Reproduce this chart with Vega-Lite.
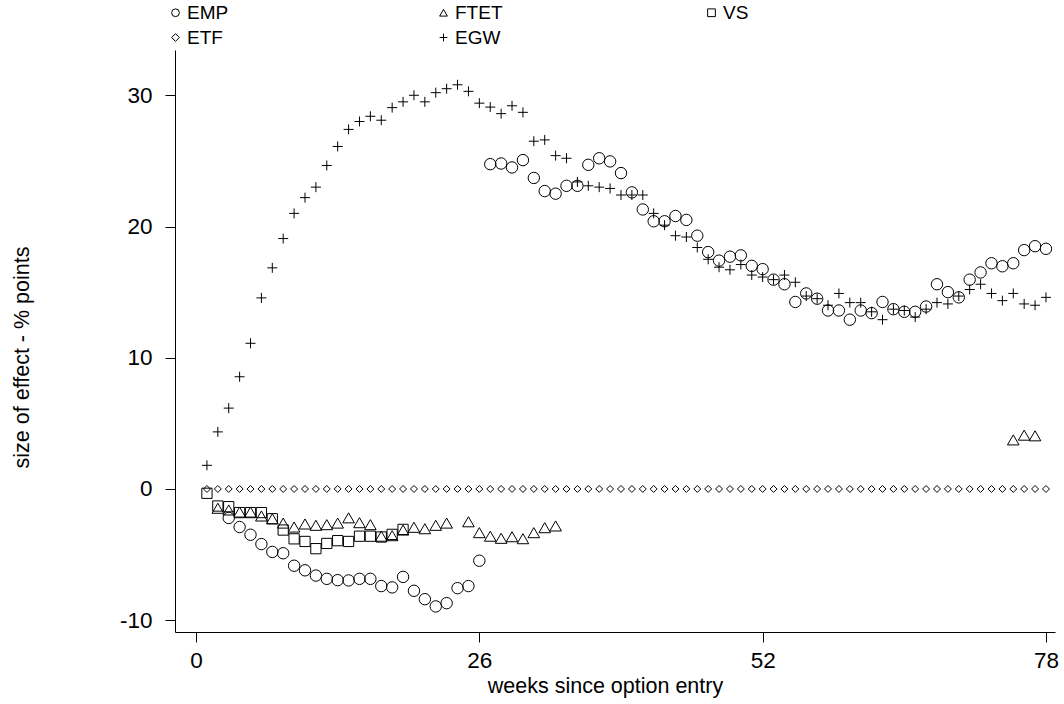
{
  "$schema": "https://vega.github.io/schema/vega-lite/v6.json",
  "autosize": "none",
  "width": 880,
  "height": 582,
  "padding": {"left": 175, "top": 50, "right": 9, "bottom": 72},
  "background": "white",
  "config": {
    "view": {"stroke": null},
    "font": "Liberation Sans",
    "axis": {"grid": false, "domainColor": "black", "tickColor": "black", "domainWidth": 1, "tickWidth": 1, "labelColor": "black", "titleColor": "black", "labelFont": "Liberation Sans", "titleFont": "Liberation Sans", "labelFontSize": 22.5, "titleFontSize": 21.5, "titleFontWeight": "normal", "tickSize": 10}
  },
  "data": {"values": [
    {"w":3,"s":"EMP","v":-2.21},{"w":4,"s":"EMP","v":-2.9},{"w":5,"s":"EMP","v":-3.49},{"w":6,"s":"EMP","v":-4.2},{"w":7,"s":"EMP","v":-4.8},{"w":8,"s":"EMP","v":-4.9},{"w":9,"s":"EMP","v":-5.85},{"w":10,"s":"EMP","v":-6.2},{"w":11,"s":"EMP","v":-6.6},{"w":12,"s":"EMP","v":-6.85},{"w":13,"s":"EMP","v":-6.95},{"w":14,"s":"EMP","v":-6.97},{"w":15,"s":"EMP","v":-6.85},{"w":16,"s":"EMP","v":-6.85},{"w":17,"s":"EMP","v":-7.4},{"w":18,"s":"EMP","v":-7.5},{"w":19,"s":"EMP","v":-6.7},{"w":20,"s":"EMP","v":-7.76},{"w":21,"s":"EMP","v":-8.4},{"w":22,"s":"EMP","v":-8.95},{"w":23,"s":"EMP","v":-8.7},{"w":24,"s":"EMP","v":-7.56},{"w":25,"s":"EMP","v":-7.4},{"w":26,"s":"EMP","v":-5.47},
    {"w":27,"s":"EMP","v":24.75},{"w":28,"s":"EMP","v":24.8},{"w":29,"s":"EMP","v":24.5},{"w":30,"s":"EMP","v":25.06},{"w":31,"s":"EMP","v":23.7},{"w":32,"s":"EMP","v":22.7},{"w":33,"s":"EMP","v":22.5},{"w":34,"s":"EMP","v":23.1},{"w":35,"s":"EMP","v":23.1},{"w":36,"s":"EMP","v":24.7},{"w":37,"s":"EMP","v":25.2},{"w":38,"s":"EMP","v":24.96},{"w":39,"s":"EMP","v":24.07},{"w":40,"s":"EMP","v":22.6},{"w":41,"s":"EMP","v":21.3},{"w":42,"s":"EMP","v":20.4},{"w":43,"s":"EMP","v":20.4},{"w":44,"s":"EMP","v":20.8},{"w":45,"s":"EMP","v":20.5},{"w":46,"s":"EMP","v":19.3},{"w":47,"s":"EMP","v":18.05},{"w":48,"s":"EMP","v":17.4},{"w":49,"s":"EMP","v":17.7},{"w":50,"s":"EMP","v":17.8},{"w":51,"s":"EMP","v":17.0},{"w":52,"s":"EMP","v":16.75},{"w":53,"s":"EMP","v":15.95},{"w":54,"s":"EMP","v":15.6},{"w":55,"s":"EMP","v":14.25},{"w":56,"s":"EMP","v":14.9},{"w":57,"s":"EMP","v":14.5},{"w":58,"s":"EMP","v":13.6},{"w":59,"s":"EMP","v":13.6},{"w":60,"s":"EMP","v":12.9},{"w":61,"s":"EMP","v":13.6},{"w":62,"s":"EMP","v":13.4},{"w":63,"s":"EMP","v":14.25},{"w":64,"s":"EMP","v":13.7},{"w":65,"s":"EMP","v":13.5},{"w":66,"s":"EMP","v":13.5},{"w":67,"s":"EMP","v":13.9},{"w":68,"s":"EMP","v":15.6},{"w":69,"s":"EMP","v":15.0},{"w":70,"s":"EMP","v":14.6},{"w":71,"s":"EMP","v":15.95},{"w":72,"s":"EMP","v":16.5},{"w":73,"s":"EMP","v":17.2},{"w":74,"s":"EMP","v":16.97},{"w":75,"s":"EMP","v":17.2},{"w":76,"s":"EMP","v":18.2},{"w":77,"s":"EMP","v":18.5},{"w":78,"s":"EMP","v":18.3},
    {"w":2,"s":"FTET","v":-1.47},{"w":3,"s":"FTET","v":-1.6},{"w":4,"s":"FTET","v":-1.76},{"w":5,"s":"FTET","v":-1.76},{"w":6,"s":"FTET","v":-2.06},{"w":7,"s":"FTET","v":-2.27},{"w":8,"s":"FTET","v":-2.6},{"w":9,"s":"FTET","v":-2.9},{"w":10,"s":"FTET","v":-2.67},{"w":11,"s":"FTET","v":-2.77},{"w":12,"s":"FTET","v":-2.72},{"w":13,"s":"FTET","v":-2.6},{"w":14,"s":"FTET","v":-2.2},{"w":15,"s":"FTET","v":-2.57},{"w":16,"s":"FTET","v":-2.72},{"w":17,"s":"FTET","v":-3.6},{"w":18,"s":"FTET","v":-3.56},{"w":19,"s":"FTET","v":-3.13},{"w":20,"s":"FTET","v":-2.92},{"w":21,"s":"FTET","v":-3.03},{"w":22,"s":"FTET","v":-2.77},{"w":23,"s":"FTET","v":-2.6},{"w":25,"s":"FTET","v":-2.5},{"w":26,"s":"FTET","v":-3.33},{"w":27,"s":"FTET","v":-3.6},{"w":28,"s":"FTET","v":-3.76},{"w":29,"s":"FTET","v":-3.64},{"w":30,"s":"FTET","v":-3.79},{"w":31,"s":"FTET","v":-3.33},{"w":32,"s":"FTET","v":-2.95},{"w":33,"s":"FTET","v":-2.82},{"w":75,"s":"FTET","v":3.74},{"w":76,"s":"FTET","v":4.1},{"w":77,"s":"FTET","v":4.05},
    {"w":1,"s":"VS","v":-0.33},{"w":2,"s":"VS","v":-1.3},{"w":3,"s":"VS","v":-1.35},{"w":4,"s":"VS","v":-1.8},{"w":5,"s":"VS","v":-1.8},{"w":6,"s":"VS","v":-1.8},{"w":7,"s":"VS","v":-2.27},{"w":8,"s":"VS","v":-3.13},{"w":9,"s":"VS","v":-3.8},{"w":10,"s":"VS","v":-4.0},{"w":11,"s":"VS","v":-4.55},{"w":12,"s":"VS","v":-4.15},{"w":13,"s":"VS","v":-3.94},{"w":14,"s":"VS","v":-4.0},{"w":15,"s":"VS","v":-3.6},{"w":16,"s":"VS","v":-3.6},{"w":17,"s":"VS","v":-3.66},{"w":18,"s":"VS","v":-3.46},{"w":19,"s":"VS","v":-3.08},
    {"w":1,"s":"ETF","v":0},{"w":2,"s":"ETF","v":0},{"w":3,"s":"ETF","v":0},{"w":4,"s":"ETF","v":0},{"w":5,"s":"ETF","v":0},{"w":6,"s":"ETF","v":0},{"w":7,"s":"ETF","v":0},{"w":8,"s":"ETF","v":0},{"w":9,"s":"ETF","v":0},{"w":10,"s":"ETF","v":0},{"w":11,"s":"ETF","v":0},{"w":12,"s":"ETF","v":0},{"w":13,"s":"ETF","v":0},{"w":14,"s":"ETF","v":0},{"w":15,"s":"ETF","v":0},{"w":16,"s":"ETF","v":0},{"w":17,"s":"ETF","v":0},{"w":18,"s":"ETF","v":0},{"w":19,"s":"ETF","v":0},{"w":20,"s":"ETF","v":0},{"w":21,"s":"ETF","v":0},{"w":22,"s":"ETF","v":0},{"w":23,"s":"ETF","v":0},{"w":24,"s":"ETF","v":0},{"w":25,"s":"ETF","v":0},{"w":26,"s":"ETF","v":0},{"w":27,"s":"ETF","v":0},{"w":28,"s":"ETF","v":0},{"w":29,"s":"ETF","v":0},{"w":30,"s":"ETF","v":0},{"w":31,"s":"ETF","v":0},{"w":32,"s":"ETF","v":0},{"w":33,"s":"ETF","v":0},{"w":34,"s":"ETF","v":0},{"w":35,"s":"ETF","v":0},{"w":36,"s":"ETF","v":0},{"w":37,"s":"ETF","v":0},{"w":38,"s":"ETF","v":0},{"w":39,"s":"ETF","v":0},{"w":40,"s":"ETF","v":0},{"w":41,"s":"ETF","v":0},{"w":42,"s":"ETF","v":0},{"w":43,"s":"ETF","v":0},{"w":44,"s":"ETF","v":0},{"w":45,"s":"ETF","v":0},{"w":46,"s":"ETF","v":0},{"w":47,"s":"ETF","v":0},{"w":48,"s":"ETF","v":0},{"w":49,"s":"ETF","v":0},{"w":50,"s":"ETF","v":0},{"w":51,"s":"ETF","v":0},{"w":52,"s":"ETF","v":0},{"w":53,"s":"ETF","v":0},{"w":54,"s":"ETF","v":0},{"w":55,"s":"ETF","v":0},{"w":56,"s":"ETF","v":0},{"w":57,"s":"ETF","v":0},{"w":58,"s":"ETF","v":0},{"w":59,"s":"ETF","v":0},{"w":60,"s":"ETF","v":0},{"w":61,"s":"ETF","v":0},{"w":62,"s":"ETF","v":0},{"w":63,"s":"ETF","v":0},{"w":64,"s":"ETF","v":0},{"w":65,"s":"ETF","v":0},{"w":66,"s":"ETF","v":0},{"w":67,"s":"ETF","v":0},{"w":68,"s":"ETF","v":0},{"w":69,"s":"ETF","v":0},{"w":70,"s":"ETF","v":0},{"w":71,"s":"ETF","v":0},{"w":72,"s":"ETF","v":0},{"w":73,"s":"ETF","v":0},{"w":74,"s":"ETF","v":0},{"w":75,"s":"ETF","v":0},{"w":76,"s":"ETF","v":0},{"w":77,"s":"ETF","v":0},{"w":78,"s":"ETF","v":0},
    {"w":1,"s":"EGW","v":1.8},{"w":2,"s":"EGW","v":4.35},{"w":3,"s":"EGW","v":6.16},{"w":4,"s":"EGW","v":8.55},{"w":5,"s":"EGW","v":11.1},{"w":6,"s":"EGW","v":14.56},{"w":7,"s":"EGW","v":16.85},{"w":8,"s":"EGW","v":19.08},{"w":9,"s":"EGW","v":21.0},{"w":10,"s":"EGW","v":22.2},{"w":11,"s":"EGW","v":23.0},{"w":12,"s":"EGW","v":24.65},{"w":13,"s":"EGW","v":26.1},{"w":14,"s":"EGW","v":27.4},{"w":15,"s":"EGW","v":28.0},{"w":16,"s":"EGW","v":28.4},{"w":17,"s":"EGW","v":28.1},{"w":18,"s":"EGW","v":29.06},{"w":19,"s":"EGW","v":29.5},{"w":20,"s":"EGW","v":30.0},{"w":21,"s":"EGW","v":29.5},{"w":22,"s":"EGW","v":30.2},{"w":23,"s":"EGW","v":30.5},{"w":24,"s":"EGW","v":30.8},{"w":25,"s":"EGW","v":30.3},{"w":26,"s":"EGW","v":29.4},{"w":27,"s":"EGW","v":29.1},{"w":28,"s":"EGW","v":28.6},{"w":29,"s":"EGW","v":29.2},{"w":30,"s":"EGW","v":28.7},{"w":31,"s":"EGW","v":26.5},{"w":32,"s":"EGW","v":26.6},{"w":33,"s":"EGW","v":25.4},{"w":34,"s":"EGW","v":25.2},{"w":35,"s":"EGW","v":23.4},{"w":36,"s":"EGW","v":23.1},{"w":37,"s":"EGW","v":23.0},{"w":38,"s":"EGW","v":22.9},{"w":39,"s":"EGW","v":22.4},{"w":40,"s":"EGW","v":22.4},{"w":41,"s":"EGW","v":22.4},{"w":42,"s":"EGW","v":21.0},{"w":43,"s":"EGW","v":20.1},{"w":44,"s":"EGW","v":19.3},{"w":45,"s":"EGW","v":19.2},{"w":46,"s":"EGW","v":18.4},{"w":47,"s":"EGW","v":17.5},{"w":48,"s":"EGW","v":16.9},{"w":49,"s":"EGW","v":16.7},{"w":50,"s":"EGW","v":17.1},{"w":51,"s":"EGW","v":16.3},{"w":52,"s":"EGW","v":16.15},{"w":53,"s":"EGW","v":15.95},{"w":54,"s":"EGW","v":16.3},{"w":55,"s":"EGW","v":15.75},{"w":56,"s":"EGW","v":14.7},{"w":57,"s":"EGW","v":14.5},{"w":58,"s":"EGW","v":14.0},{"w":59,"s":"EGW","v":14.9},{"w":60,"s":"EGW","v":14.2},{"w":61,"s":"EGW","v":14.2},{"w":62,"s":"EGW","v":13.5},{"w":63,"s":"EGW","v":12.9},{"w":64,"s":"EGW","v":13.7},{"w":65,"s":"EGW","v":13.6},{"w":66,"s":"EGW","v":13.1},{"w":67,"s":"EGW","v":13.7},{"w":68,"s":"EGW","v":14.2},{"w":69,"s":"EGW","v":14.1},{"w":70,"s":"EGW","v":14.7},{"w":71,"s":"EGW","v":15.2},{"w":72,"s":"EGW","v":15.6},{"w":73,"s":"EGW","v":14.9},{"w":74,"s":"EGW","v":14.35},{"w":75,"s":"EGW","v":14.9},{"w":76,"s":"EGW","v":14.1},{"w":77,"s":"EGW","v":14.0},{"w":78,"s":"EGW","v":14.6}
  ]},
  "mark": {"type": "point", "filled": false, "stroke": "black", "strokeWidth": 1, "opacity": 1},
  "encoding": {
    "x": {"field": "w", "type": "quantitative",
      "scale": {"domain": [-1.93, 78.83], "nice": false, "zero": false},
      "axis": {"values": [0, 26, 52, 78], "title": "weeks since option entry", "labelPadding": 7, "titleX": 430, "titleY": 54, "titleAlign": "center", "titleBaseline": "middle"}},
    "y": {"field": "v", "type": "quantitative",
      "scale": {"domain": [-10.9, 33.45], "nice": false, "zero": false},
      "axis": {"values": [-10, 0, 10, 20, 30], "labelExpr": "'' + datum.value", "title": "size of effect - % points", "labelPadding": 13, "titleX": -153, "titleY": 307, "titleAngle": 270, "titleAlign": "center", "titleBaseline": "middle"}},
    "shape": {"field": "s", "type": "nominal",
      "scale": {"domain": ["EMP", "FTET", "VS", "ETF", "EGW"], "range": ["circle", "triangle-up", "square", "diamond", "M-1,0H1M0,-1V1"]},
      "legend": {"title": null, "orient": "none", "direction": "horizontal", "legendX": -9, "legendY": -47, "columns": 3, "gridAlign": "all", "columnPadding": 199, "rowPadding": 5, "padding": 0, "labelFont": "Liberation Sans", "labelFontSize": 19, "labelColor": "black", "labelOffset": 2, "symbolSize": 60, "symbolStrokeColor": "black", "symbolStrokeWidth": 1, "symbolFillColor": "transparent"}},
    "size": {"condition": [
      {"test": "datum.s === 'EMP'", "value": 130},
      {"test": "datum.s === 'FTET'", "value": 135},
      {"test": "datum.s === 'VS'", "value": 105},
      {"test": "datum.s === 'ETF'", "value": 48}
    ], "value": 100}
  }
}
